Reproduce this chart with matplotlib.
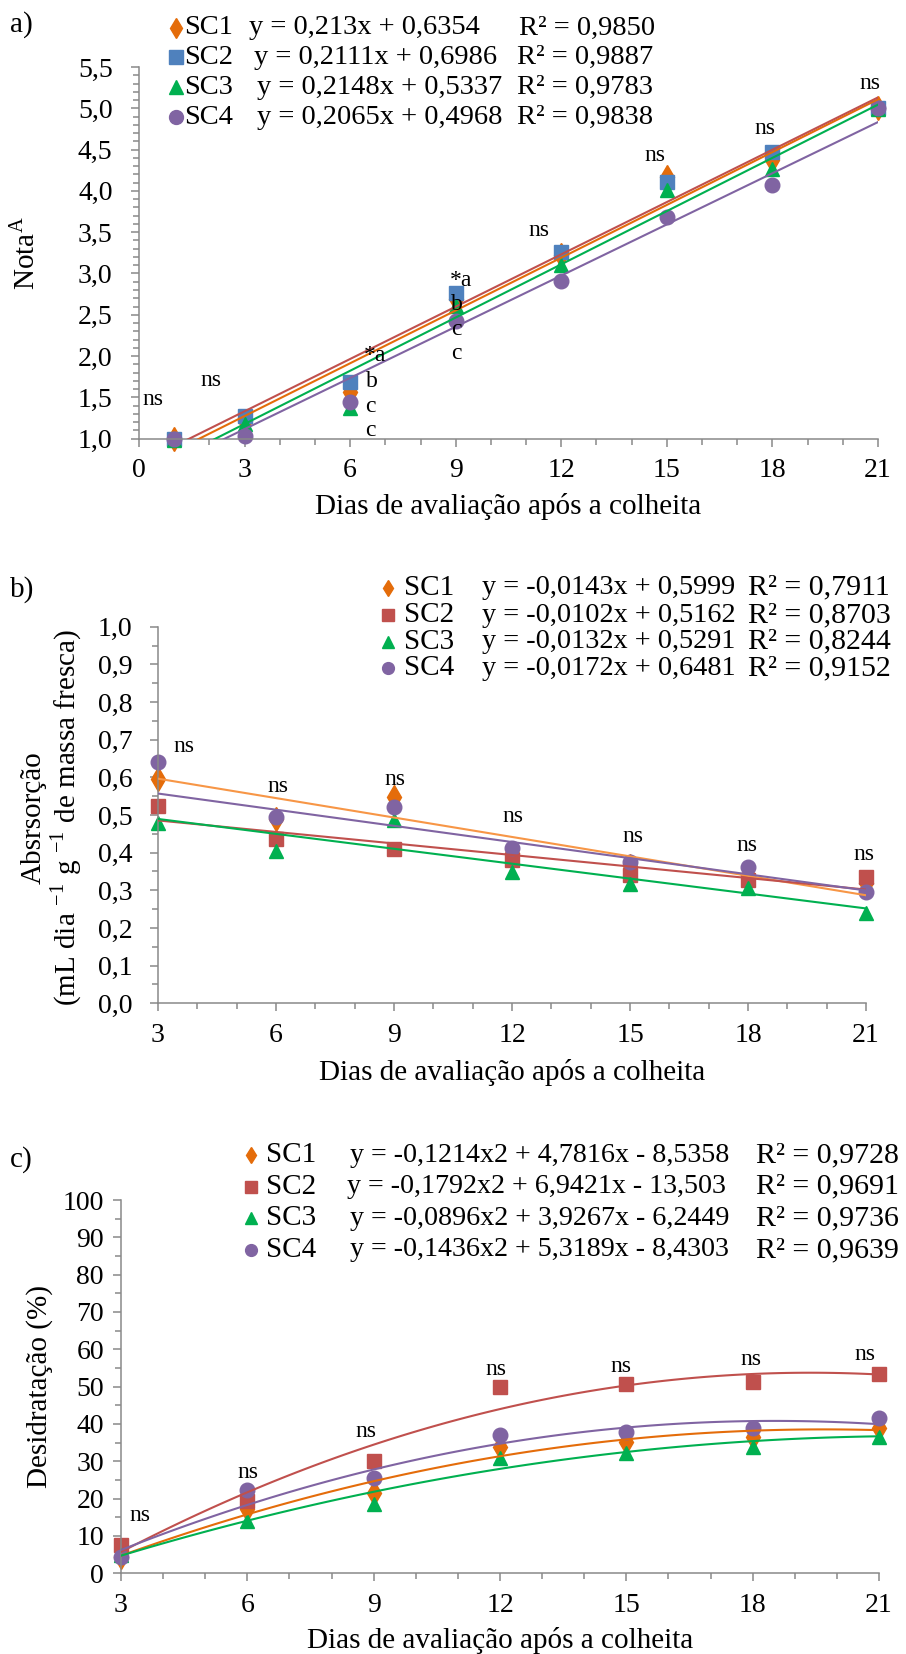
import matplotlib.pyplot as plt
import numpy as np
from matplotlib.lines import Line2D
from matplotlib.ticker import FuncFormatter, MultipleLocator

plt.rcParams['font.family'] = ['Liberation Serif', 'DejaVu Serif']
plt.rcParams['mathtext.fontset'] = 'stix'

W, H = 906, 1654

ORANGE = '#E46C0A'
LIGHT_ORANGE = '#F79646'
BLUE = '#4F81BD'
RED = '#C0504D'
GREEN = '#00B050'
PURPLE = '#8064A2'
GRAY = '#898989'

series = ['SC1', 'SC2', 'SC3', 'SC4']
markers = ['d', 's', '^', 'o']

# ---- a) nota
a_days = [1, 3, 6, 9, 12, 15, 18, 21]
a_sc1 = [1.0, 1.21, 1.57, 2.69, 3.22, 4.17, 4.38, 5.0]
a_sc2 = [1.0, 1.28, 1.69, 2.76, 3.26, 4.11, 4.47, 5.0]
a_sc3 = [0.99, 1.18, 1.37, 2.61, 3.10, 4.01, 4.27, 4.99]
a_sc4 = [1.0, 1.03, 1.44, 2.42, 2.91, 3.69, 4.07, 5.0]
a_marker_colors = [ORANGE, BLUE, GREEN, PURPLE]
a_line_colors = [ORANGE, RED, GREEN, PURPLE]
a_slope = [0.213, 0.2111, 0.2148, 0.2065]
a_inter = [0.6354, 0.6986, 0.5337, 0.4968]
a_eq = ['y = 0,213x + 0,6354', 'y = 0,2111x + 0,6986',
        'y = 0,2148x + 0,5337', 'y = 0,2065x + 0,4968']
a_r2 = ['R² = 0,9850', 'R² = 0,9887', 'R² = 0,9783', 'R² = 0,9838']
a_notes = [('ns', 0.4, 1.47), ('ns', 2.05, 1.71),
           ('*a', 6.72, 2.01), ('b', 6.62, 1.69), ('c', 6.58, 1.39), ('c', 6.58, 1.105),
           ('*a', 9.15, 2.92), ('b', 9.02, 2.62), ('c', 9.02, 2.32), ('c', 9.02, 2.03),
           ('ns', 11.37, 3.52), ('ns', 14.66, 4.43), ('ns', 17.79, 4.76), ('ns', 20.76, 5.30)]

# ---- b) absorcao
b_days = [3, 6, 9, 12, 15, 18, 21]
b_sc1 = [0.596, 0.49, 0.549, 0.40, 0.365, 0.34, 0.32]
b_sc2 = [0.524, 0.436, 0.409, 0.381, 0.341, 0.327, 0.336]
b_sc3 = [0.480, 0.404, 0.487, 0.349, 0.316, 0.305, 0.239]
b_sc4 = [0.640, 0.495, 0.522, 0.413, 0.376, 0.361, 0.296]
b_marker_colors = [ORANGE, RED, GREEN, PURPLE]
# trendlines as drawn (colour / coefficients)
b_line_colors = [LIGHT_ORANGE, RED, GREEN, PURPLE]
b_slope = [-0.0172, -0.0102, -0.0132, -0.0143]
b_inter = [0.6481, 0.5162, 0.5291, 0.5999]
b_eq = ['y = -0,0143x + 0,5999', 'y = -0,0102x + 0,5162',
        'y = -0,0132x + 0,5291', 'y = -0,0172x + 0,6481']
b_r2 = ['R² = 0,7911', 'R² = 0,8703', 'R² = 0,8244', 'R² = 0,9152']
b_notes = [('ns', 3.67, 0.681), ('ns', 6.06, 0.577), ('ns', 9.03, 0.595), ('ns', 12.03, 0.495),
           ('ns', 15.08, 0.444), ('ns', 17.97, 0.418), ('ns', 20.94, 0.396)]

# ---- c) desidratacao
c_days = [3, 6, 9, 12, 15, 18, 21]
c_sc1 = [4.5, 17.1, 21.4, 33.9, 35.3, 36.4, 38.8]
c_sc2 = [7.6, 19.5, 30.1, 49.8, 50.6, 51.3, 53.4]
c_sc3 = [5.0, 14.1, 18.5, 30.8, 32.3, 33.8, 36.5]
c_sc4 = [4.3, 22.3, 25.4, 37.0, 37.9, 38.8, 41.5]
c_marker_colors = [ORANGE, RED, GREEN, PURPLE]
c_line_colors = [ORANGE, RED, GREEN, PURPLE]
c_a2 = [-0.1214, -0.1792, -0.0896, -0.1436]
c_a1 = [4.7816, 6.9421, 3.9267, 5.3189]
c_a0 = [-8.5358, -13.503, -6.2449, -8.4303]
c_eq = ['y = -0,1214x2 + 4,7816x - 8,5358', 'y = -0,1792x2 + 6,9421x - 13,503',
        'y = -0,0896x2 + 3,9267x - 6,2449', 'y = -0,1436x2 + 5,3189x - 8,4303']
c_r2 = ['R² = 0,9728', 'R² = 0,9691', 'R² = 0,9736', 'R² = 0,9639']
c_notes = [('ns', 3.46, 15.4), ('ns', 6.02, 27.0), ('ns', 8.82, 37.9), ('ns', 11.91, 54.5),
           ('ns', 14.87, 55.3), ('ns', 17.96, 57.3), ('ns', 20.66, 58.5)]

XLABEL = 'Dias de avaliação após a colheita'


def fx(px):
    return px / W


def fy(py):
    return 1 - py / H


def comma(dec):
    return FuncFormatter(lambda v, p: f'{v:.{dec}f}'.replace('.', ','))


def setup(ax, xlim, ylim, xstart, ymajor, yminor, ydec, ypad):
    ax.set_xlim(xlim)
    ax.set_ylim(ylim)
    for s in ['top', 'right']:
        ax.spines[s].set_visible(False)
    for s in ['left', 'bottom']:
        ax.spines[s].set_color(GRAY)
        ax.spines[s].set_linewidth(1.1)
    ax.set_xticks(np.arange(xstart, 22, 3))
    ax.xaxis.set_minor_locator(MultipleLocator(1))
    ax.yaxis.set_major_locator(MultipleLocator(ymajor))
    ax.yaxis.set_minor_locator(MultipleLocator(yminor))
    ax.yaxis.set_major_formatter(comma(ydec))
    ax.tick_params(which='both', direction='out', color=GRAY, width=1.1, labelsize=20)
    ax.tick_params(which='major', length=6)
    ax.tick_params(which='minor', length=4.5)
    ax.tick_params(axis='x', pad=8)
    ax.tick_params(axis='y', pad=ypad)


def legend_rows(rows_y, mx, sx, ex, rx, eqs, r2s, colors, size, eqsize, r2size, msize):
    for i in range(4):
        y = fy(rows_y[i])
        fig.add_artist(Line2D([fx(mx)], [y], marker=markers[i], color=colors[i],
                              markersize=msize, linestyle='none', transform=fig.transFigure))
        fig.text(fx(sx), y, series[i], fontsize=size, va='center', ha='left')
        fig.text(fx(ex[i]), y, eqs[i], fontsize=eqsize, va='center', ha='left')
        fig.text(fx(rx[i]), y, r2s[i], fontsize=r2size, va='center', ha='left')


fig = plt.figure(figsize=(9.06, 16.54), dpi=100)

# ---------------- a)
ax = fig.add_axes([fx(139), fy(438.7), fx(878) - fx(139), fy(67) - fy(438.7)])
setup(ax, (0, 21), (1.0, 5.5), 0, 0.5, 0.1, 1, 13)
a_vals = [a_sc1, a_sc2, a_sc3, a_sc4]
for i in range(4):
    ax.plot(a_days, a_vals[i], linestyle='none', marker=markers[i], color=a_marker_colors[i],
            markersize=12.5 if markers[i] == 'd' else 10.5, clip_on=False, zorder=2 + i * 0.1)
xx = np.linspace(1, 21, 50)
for i in range(4):
    ax.plot(xx, a_slope[i] * xx + a_inter[i], color=a_line_colors[i], lw=1.5, zorder=3)
for t, x, y in a_notes:
    ax.text(x, y, t, fontsize=17, ha='center', va='center', zorder=5)
fig.text(fx(508.5), fy(507), XLABEL, fontsize=21, ha='center', va='center')
fig.text(fx(27), fy(253), r'Nota$^\mathregular{A}$', fontsize=21, ha='center', va='center',
         rotation=90)
fig.text(fx(10), fy(25), 'a)', fontsize=21, ha='left', va='center')
legend_rows([28, 57, 87, 117], 176, 184, [249, 254.5, 257, 257], [519, 517, 517, 517],
            a_eq, a_r2, a_marker_colors, 20.5, 20.5, 20.5, 10)

# ---------------- b)
ax = fig.add_axes([fx(158), fy(1003.3), fx(866) - fx(158), fy(626.7) - fy(1003.3)])
setup(ax, (3, 21), (0, 1.0), 3, 0.1, 0.05, 1, 12.5)
b_vals = [b_sc1, b_sc2, b_sc3, b_sc4]
for i in range(4):
    ax.plot(b_days, b_vals[i], linestyle='none', marker=markers[i], color=b_marker_colors[i],
            markersize=12.5 if markers[i] == 'd' else 10.5, clip_on=False, zorder=2 + i * 0.1)
xx = np.linspace(3, 21, 50)
for i in range(4):
    ax.plot(xx, b_slope[i] * xx + b_inter[i], color=b_line_colors[i], lw=1.5, zorder=3)
for t, x, y in b_notes:
    ax.text(x, y, t, fontsize=17, ha='center', va='center', zorder=5)
fig.text(fx(512), fy(1073), XLABEL, fontsize=21, ha='center', va='center')
fig.text(fx(52), fy(818),
         'Absrsorção\n(mL dia $^\\mathregular{-1}$ g $^\\mathregular{-1}$ de massa fresca)',
         fontsize=21, ha='center', va='center', rotation=90, multialignment='center',
         linespacing=1.1)
fig.text(fx(10), fy(590), 'b)', fontsize=21, ha='left', va='center')
legend_rows([587.7, 615, 641.7, 668.3], 387.5, 404, [481.5] * 4, [748] * 4,
            b_eq, b_r2, b_marker_colors, 21, 20.3, 21.5, 8.5)

# ---------------- c)
ax = fig.add_axes([fx(121), fy(1573.3), fx(879) - fx(121), fy(1200) - fy(1573.3)])
setup(ax, (3, 21), (0, 100), 3, 10, 5, 0, 6.3)
c_vals = [c_sc1, c_sc2, c_sc3, c_sc4]
for i in range(4):
    ax.plot(c_days, c_vals[i], linestyle='none', marker=markers[i], color=c_marker_colors[i],
            markersize=12.5 if markers[i] == 'd' else 10.5, clip_on=False, zorder=2 + i * 0.1)
xx = np.linspace(3, 21, 100)
for i in range(4):
    ax.plot(xx, c_a2[i] * xx ** 2 + c_a1[i] * xx + c_a0[i], color=c_line_colors[i], lw=1.5,
            zorder=3)
for t, x, y in c_notes:
    ax.text(x, y, t, fontsize=17, ha='center', va='center', zorder=5)
fig.text(fx(500), fy(1640), XLABEL, fontsize=21, ha='center', va='center')
fig.text(fx(40), fy(1387), 'Desidratação (%)', fontsize=21, ha='center', va='center',
         rotation=90)
fig.text(fx(10), fy(1160), 'c)', fontsize=21, ha='left', va='center')
legend_rows([1155, 1186.7, 1218.3, 1250], 251, 266, [349.5, 346.6, 349.5, 349.5], [756] * 4,
            c_eq, c_r2, c_marker_colors, 21, 20.2, 21.5, 8.5)

fig.savefig('out.png', dpi=100)
